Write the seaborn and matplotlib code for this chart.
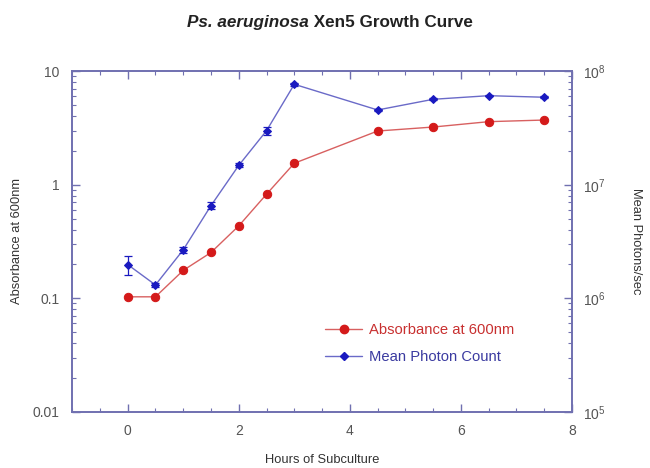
"""
Ps. aeruginosa Xen5 growth curve: absorbance and photon count on twin log axes
"""

import numpy as np
import pandas as pd
import matplotlib
matplotlib.use('Agg')
import matplotlib.pyplot as plt
from matplotlib.ticker import LogLocator, MultipleLocator, NullFormatter, FixedLocator, FixedFormatter
from matplotlib.lines import Line2D
import seaborn as sns

# Data
hours = [0, 0.5, 1, 1.5, 2, 2.5, 3, 4.5, 5.5, 6.5, 7.5]
absorbance = [0.103, 0.103, 0.176, 0.253, 0.434, 0.825, 1.545, 2.97, 3.22, 3.59, 3.71]
photons = [1.98e6, 1.31e6, 2.67e6, 6.55e6, 1.48e7, 2.99e7, 7.66e7, 4.55e7, 5.65e7, 6.08e7, 5.89e7]
photons_err = [0.39e6, 0.05e6, 0.15e6, 0.5e6, 0.6e6, 0.25e7, 0.2e7, 0.1e7, 0.1e7, 0.1e7, 0.1e7]

left_ticks = [0.01, 0.1, 1, 10]
left_labels = ['0.01', '0.1', '1', '10']
right_ticks = [1e5, 1e6, 1e7, 1e8]
right_labels = ['$10^5$', '$10^6$', '$10^7$', '$10^8$']

df = pd.DataFrame({'hours': hours, 'absorbance': absorbance, 'photons': photons})

RED = '#d41a1a'
RED_LINE = '#d86060'
BLUE = '#1a1ac0'
BLUE_LINE = '#6a6ac8'
SPINE = '#7070b0'
GREY = '#555555'

sns.set_theme(style='white')
plt.rcParams['font.family'] = ['Liberation Sans', 'DejaVu Sans']
plt.rcParams['mathtext.fontset'] = 'custom'
plt.rcParams['mathtext.rm'] = 'Liberation Sans'

fig = plt.figure(figsize=(6.5, 4.68), dpi=100)
ax = fig.add_axes([0.111, 0.12, 0.769, 0.728])
ax2 = ax.twinx()

# Absorbance (left axis)
sns.lineplot(data=df, x='hours', y='absorbance', ax=ax, color=RED_LINE, lw=1.0,
             marker='o', markersize=6, markerfacecolor=RED, markeredgecolor=RED,
             label='Absorbance at 600nm', legend=False)

# Photon count (right axis)
ax2.errorbar(hours, photons, yerr=photons_err, fmt='none', ecolor=BLUE, elinewidth=0.9,
             capsize=3, capthick=0.9, zorder=3)
sns.lineplot(data=df, x='hours', y='photons', ax=ax2, color=BLUE_LINE, lw=1.0,
             marker='D', markersize=4.2, markerfacecolor=BLUE, markeredgecolor=BLUE,
             label='Mean Photon Count', legend=False)

for a in (ax, ax2):
    a.set_yscale('log')
    a.set_xlim(-1, 8)
    for s in a.spines.values():
        s.set_color(SPINE)
        s.set_linewidth(1.2)
    a.grid(False)

ax.set_ylim(0.01, 10)
ax2.set_ylim(1e5, 1e8)

ax.yaxis.set_major_locator(FixedLocator(left_ticks))
ax.yaxis.set_major_formatter(FixedFormatter(left_labels))
ax.yaxis.set_minor_locator(LogLocator(base=10, subs=np.arange(2, 10)))
ax.yaxis.set_minor_formatter(NullFormatter())
ax2.yaxis.set_major_locator(FixedLocator(right_ticks))
ax2.yaxis.set_major_formatter(FixedFormatter(right_labels))
ax2.yaxis.set_minor_locator(LogLocator(base=10, subs=np.arange(2, 10)))
ax2.yaxis.set_minor_formatter(NullFormatter())

ax.xaxis.set_major_locator(MultipleLocator(2))
ax.xaxis.set_minor_locator(MultipleLocator(0.5))

ax.tick_params(which='both', direction='in', top=True, bottom=True, left=True, right=False,
               color=SPINE, labelcolor=GREY, labelsize=10)
ax.tick_params(which='major', length=6, width=1)
ax.tick_params(which='minor', length=3, width=0.8)
ax.tick_params(axis='x', pad=9)
ax.tick_params(axis='y', pad=9)
ax2.tick_params(which='both', direction='in', right=True, left=False,
                color=SPINE, labelcolor=GREY, labelsize=10, pad=8)
ax2.tick_params(which='major', length=6, width=1)
ax2.tick_params(which='minor', length=3, width=0.8)

ax.set_xlabel('Hours of Subculture', fontsize=9.3, color='#333333', labelpad=11)
ax.set_ylabel('Absorbance at 600nm', fontsize=9.3, color='#333333', labelpad=7)
ax2.set_ylabel('Mean Photons/sec', fontsize=9.3, color='#333333', rotation=-90, labelpad=26)

# Legend with coloured text
handles = [
    Line2D([], [], color=RED_LINE, lw=1.0, marker='o', markersize=6,
           markerfacecolor=RED, markeredgecolor=RED),
    Line2D([], [], color=BLUE_LINE, lw=1.0, marker='D', markersize=4.2,
           markerfacecolor=BLUE, markeredgecolor=BLUE),
]
leg = ax2.legend(handles, ['Absorbance at 600nm', 'Mean Photon Count'],
                 loc='center left', bbox_to_anchor=(0.48, 0.2), frameon=False,
                 fontsize=10.6, handlelength=2.5, labelspacing=0.9, handletextpad=0.45)
leg.get_texts()[0].set_color('#c83030')
leg.get_texts()[1].set_color('#3a3aa0')

# Title: italic species name followed by plain bold text
t1 = fig.text(0, 0.951, 'Ps. aeruginosa', fontsize=12.3, fontweight='bold', style='italic',
              color='#222222', va='center', ha='left')
t2 = fig.text(0, 0.951, ' Xen5 Growth Curve', fontsize=12.3, fontweight='bold',
              color='#222222', va='center', ha='left')
fig.canvas.draw()
r = fig.canvas.get_renderer()
w1 = t1.get_window_extent(r).width
w2 = t2.get_window_extent(r).width
x0 = (330 - (w1 + w2) / 2) / fig.bbox.width
t1.set_x(x0)
t2.set_x(x0 + w1 / fig.bbox.width)

fig.savefig('out.png', dpi=100)
